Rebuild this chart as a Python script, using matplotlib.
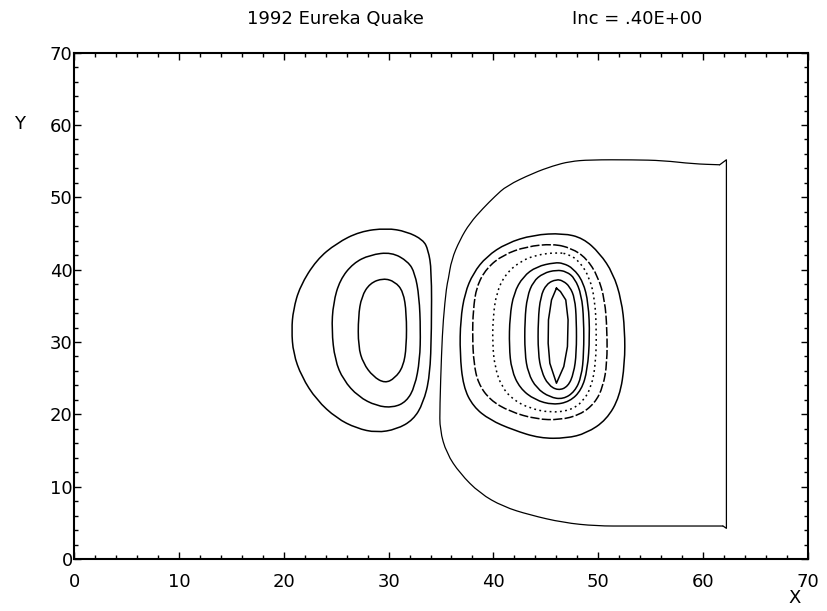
import matplotlib
matplotlib.use('Agg')
from matplotlib import pyplot as plt
from matplotlib.path import Path
from matplotlib.patches import PathPatch
from matplotlib.ticker import MultipleLocator

# contour traces (x, y) in grid units
outer_ring = [(61.58, 54.50), (59.04, 54.63), (56.18, 55.09), (53.32, 55.19), (49.19, 55.19),
              (47.28, 54.96), (45.69, 54.36), (43.79, 53.35), (41.25, 51.59), (40.13, 50.11),
              (39.02, 48.50), (37.75, 46.43), (36.80, 44.12), (36.00, 41.36), (35.69, 38.59),
              (35.53, 37.67), (35.21, 33.06), (35.05, 28.45), (34.89, 21.07), (34.89, 17.84),
              (35.53, 14.61), (36.80, 11.85), (38.70, 9.08), (40.93, 7.24), (43.47, 6.09),
              (46.65, 5.03), (49.82, 4.56), (53.00, 4.56), (61.90, 4.56)]
outer_edge = [(61.90, 4.56), (62.22, 4.24), (62.22, 55.19), (61.58, 54.50)]

left_1 = [(29.81, 45.74), (27.26, 45.28), (25.04, 43.66), (23.13, 41.36), (21.54, 37.67),
          (20.91, 34.44), (20.75, 31.67), (20.91, 28.45), (21.70, 25.22), (23.13, 21.99),
          (25.04, 19.46), (26.95, 18.07), (28.85, 17.47), (30.76, 17.93), (32.35, 19.23),
          (33.30, 21.53), (33.94, 25.22), (34.10, 31.67), (34.10, 39.97), (33.78, 42.74),
          (33.30, 44.12), (31.71, 45.28)]
left_2 = [(30.28, 42.42), (28.22, 42.05), (26.63, 40.90), (25.36, 38.59), (24.72, 35.37),
          (24.57, 31.67), (24.88, 27.52), (25.68, 24.76), (27.11, 22.45), (28.85, 21.16),
          (30.44, 20.93), (31.71, 21.76), (32.51, 23.84), (32.98, 27.52), (33.05, 31.67),
          (32.92, 36.28), (32.51, 39.52), (31.87, 41.12)]
left_3 = [(29.49, 38.82), (28.22, 38.13), (27.42, 36.28), (27.11, 33.52), (27.11, 29.37),
          (27.58, 27.06), (28.53, 25.22), (29.65, 24.30), (30.60, 24.99), (31.40, 26.60),
          (31.71, 29.37), (31.71, 33.98), (31.40, 36.98), (30.60, 38.36)]

right_1 = [(46.65, 45.04), (43.79, 44.81), (41.25, 43.66), (39.34, 41.82), (38.07, 39.51),
           (37.27, 36.74), (36.86, 33.06), (36.80, 28.45), (37.12, 23.84), (38.07, 21.07),
           (39.66, 19.23), (41.88, 17.84), (44.42, 16.69), (46.97, 16.69), (48.87, 17.38),
           (50.78, 19.23), (52.05, 22.45), (52.53, 27.06), (52.53, 31.67), (52.21, 35.82),
           (51.41, 39.51), (50.14, 42.28), (48.55, 44.36)]
right_2 = [(45.69, 43.57), (43.15, 43.20), (40.93, 42.05), (39.34, 40.20), (38.39, 37.67),
           (38.07, 34.44), (38.00, 30.75), (38.13, 27.06), (38.54, 24.30), (39.66, 21.99),
           (41.56, 20.38), (44.11, 19.32), (46.33, 19.23), (48.24, 19.92), (49.67, 21.53),
           (50.46, 23.84), (50.84, 27.06), (50.84, 31.67), (50.62, 35.82), (49.98, 39.05),
           (48.87, 41.59), (47.44, 42.97)]
right_3 = [(46.01, 42.37), (44.11, 42.05), (42.52, 41.12), (41.09, 39.28), (40.29, 36.75),
           (39.97, 33.52), (39.91, 29.83), (40.13, 26.60), (40.77, 23.84), (41.88, 21.99),
           (43.47, 20.84), (45.38, 20.24), (47.28, 20.52), (48.55, 21.76), (49.35, 23.84),
           (49.76, 27.06), (49.83, 31.67), (49.67, 35.82), (49.19, 38.82), (48.24, 41.12),
           (47.12, 42.19)]
right_4 = [(45.85, 40.99), (44.11, 40.43), (42.83, 39.05), (41.94, 36.75), (41.56, 33.52),
           (41.50, 29.37), (41.72, 26.14), (42.52, 23.61), (43.95, 21.99), (45.69, 21.30),
           (47.28, 21.76), (48.40, 23.37), (48.97, 26.14), (49.19, 30.75), (49.06, 35.36),
           (48.55, 38.36), (47.60, 40.20), (46.65, 40.89)]
right_5 = [(46.01, 39.97), (44.74, 39.51), (43.79, 38.36), (43.22, 36.28), (42.99, 33.06),
           (42.99, 28.45), (43.31, 25.68), (44.11, 23.61), (45.38, 22.36), (46.65, 22.08),
           (47.76, 23.14), (48.40, 25.22), (48.62, 28.45), (48.62, 33.06), (48.40, 36.51),
           (47.76, 38.82), (46.97, 39.74)]
right_6 = [(46.01, 38.68), (45.06, 38.04), (44.49, 36.28), (44.26, 33.06), (44.26, 28.45),
           (44.58, 25.91), (45.22, 24.07), (46.17, 23.28), (47.12, 23.84), (47.66, 25.68),
           (47.92, 28.45), (47.92, 33.06), (47.76, 36.05), (47.28, 37.67), (46.65, 38.45)]
right_7 = [(46.01, 37.44), (45.54, 35.82), (45.25, 33.06), (45.22, 29.83), (45.38, 27.06),
           (46.01, 24.30), (46.71, 26.60), (47.06, 29.37), (47.12, 33.06), (46.90, 35.82),
           (46.39, 36.98), (46.01, 37.44)]

title_left = '1992 Eureka Quake'
title_right = 'Inc = .40E+00'

fig = plt.figure(figsize=(8.27, 6.11), dpi=100)
ax = fig.add_axes([0.0895, 0.0851, 0.8875, 0.8287])


def trace(pts, **kw):
    xs = [p[0] for p in pts]
    ys = [p[1] for p in pts]
    ax.plot(xs, ys, color='black', **kw)


def curve(pts, closed=True, **kw):
    # vertices act as quadratic bezier control points, curve runs through midpoints
    n = len(pts)
    m = n if closed else n - 1
    mid = [((pts[i][0] + pts[(i + 1) % n][0]) / 2, (pts[i][1] + pts[(i + 1) % n][1]) / 2)
           for i in range(m)]
    if closed:
        verts = [mid[-1]]
        codes = [Path.MOVETO]
        for i in range(n):
            verts += [pts[i], mid[i]]
            codes += [Path.CURVE3, Path.CURVE3]
    else:
        verts = [pts[0], mid[0]]
        codes = [Path.MOVETO, Path.LINETO]
        for i in range(1, n - 1):
            verts += [pts[i], mid[i]]
            codes += [Path.CURVE3, Path.CURVE3]
        verts.append(pts[-1])
        codes.append(Path.LINETO)
    ax.add_patch(PathPatch(Path(verts, codes), fill=False, edgecolor='black', **kw))


curve(outer_ring, closed=False, lw=0.9)
trace(outer_edge, lw=0.9)
for pts in (left_1, left_2, left_3, right_1):
    curve(pts, lw=1.1)
curve(right_2, lw=1.1, linestyle=(0, (6, 1.5)))
curve(right_3, lw=1.1, linestyle=(0, (1.2, 2.2)))
for pts in (right_4, right_5, right_6):
    curve(pts, lw=1.1)
trace(right_7, lw=1.1)

ax.set_xlim(0, 70)
ax.set_ylim(0, 70)
ax.xaxis.set_major_locator(MultipleLocator(10))
ax.yaxis.set_major_locator(MultipleLocator(10))
ax.xaxis.set_minor_locator(MultipleLocator(2))
ax.yaxis.set_minor_locator(MultipleLocator(2))
ax.tick_params(which='both', direction='in', top=True, right=True, width=1.0)
ax.tick_params(which='major', length=5)
ax.tick_params(which='minor', length=3)
ax.tick_params(axis='x', which='major', pad=10, labelsize=13)
ax.tick_params(axis='y', which='major', pad=1, labelsize=13)
for s in ax.spines.values():
    s.set_linewidth(1.5)

fig.text(20 / 827, 1 - 124 / 611, 'Y', fontsize=13, ha='center', va='center')
fig.text(795 / 827, 1 - 598 / 611, 'X', fontsize=13, ha='center', va='center')
fig.text(335 / 827, 1 - 19 / 611, title_left, fontsize=13, ha='center', va='center')
fig.text(637 / 827, 1 - 19 / 611, title_right, fontsize=13, ha='center', va='center')

plt.savefig('out.png', dpi=100)
plt.close()
